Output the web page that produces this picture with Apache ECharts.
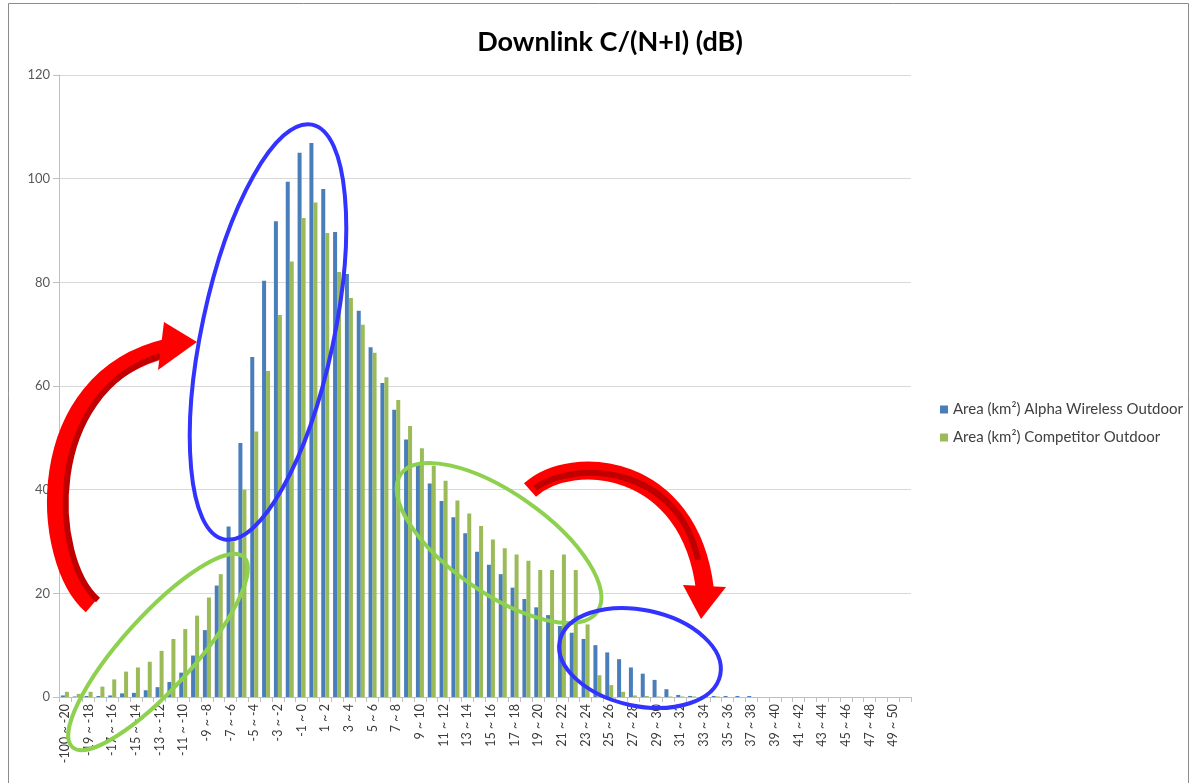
<!DOCTYPE html>
<html>
<head>
<meta charset="utf-8">
<script src="https://cdn.jsdelivr.net/npm/echarts@6/dist/echarts.min.js"></script>
<style>
  html, body { margin: 0; padding: 0; background: #ffffff; }
  #chart { width: 1191px; height: 783px; }
</style>
</head>
<body>
<div id="chart"></div>
<script>
const categories = [
  "-100 ~ -20", "-20 ~ -19", "-19 ~ -18", "-18 ~ -17", "-17 ~ -16", "-16 ~ -15", "-15 ~ -14", "-14 ~ -13",
  "-13 ~ -12", "-12 ~ -11", "-11 ~ -10", "-10 ~ -9", "-9 ~ -8", "-8 ~ -7", "-7 ~ -6", "-6 ~ -5",
  "-5 ~ -4", "-4 ~ -3", "-3 ~ -2", "-2 ~ -1", "-1 ~ 0", "0 ~ 1", "1 ~ 2", "2 ~ 3",
  "3 ~ 4", "4 ~ 5", "5 ~ 6", "6 ~ 7", "7 ~ 8", "8 ~ 9", "9 ~ 10", "10 ~ 11",
  "11 ~ 12", "12 ~ 13", "13 ~ 14", "14 ~ 15", "15 ~ 16", "16 ~ 17", "17 ~ 18", "18 ~ 19",
  "19 ~ 20", "20 ~ 21", "21 ~ 22", "22 ~ 23", "23 ~ 24", "24 ~ 25", "25 ~ 26", "26 ~ 27",
  "27 ~ 28", "28 ~ 29", "29 ~ 30", "30 ~ 31", "31 ~ 32", "32 ~ 33", "33 ~ 34", "34 ~ 35",
  "35 ~ 36", "36 ~ 37", "37 ~ 38", "38 ~ 39", "39 ~ 40", "40 ~ 41", "41 ~ 42", "42 ~ 43",
  "43 ~ 44", "44 ~ 45", "45 ~ 46", "46 ~ 47", "47 ~ 48", "48 ~ 49", "49 ~ 50", "50 ~ 100"
];

const alphaWireless = [
  0.3, 0.1, 0.2, 0.2, 0.3, 0.7, 0.8, 1.3,
  1.9, 2.9, 4.7, 8.0, 12.9, 21.5, 32.9, 49.0,
  65.6, 80.3, 91.8, 99.4, 105.0, 106.9, 98.0, 89.7,
  81.6, 74.5, 67.5, 60.6, 55.4, 49.7, 45.0, 41.2,
  37.8, 34.7, 31.6, 28.0, 25.5, 23.7, 21.1, 18.9,
  17.3, 15.8, 13.7, 12.4, 11.2, 10.0, 8.6, 7.3,
  5.7, 4.5, 3.3, 1.5, 0.4, 0.2, 0.1, 0.2,
  0.2, 0.2, 0.2, 0, 0, 0, 0, 0,
  0, 0, 0, 0, 0, 0, 0, 0
];

const competitor = [
  1.0, 0.6, 1.0, 2.0, 3.4, 4.9, 5.7, 6.8,
  8.9, 11.2, 13.1, 15.7, 19.2, 23.7, 30.0, 40.0,
  51.2, 62.9, 73.7, 84.0, 92.4, 95.4, 89.5, 82.0,
  77.0, 71.8, 66.4, 61.7, 57.3, 52.3, 48.0, 44.6,
  41.7, 37.9, 35.4, 33.0, 30.4, 28.7, 27.5, 26.3,
  24.5, 24.5, 27.5, 24.5, 14.0, 4.2, 2.3, 1.0,
  0.3, 0.2, 0.1, 0.1, 0.1, 0.1, 0.1, 0.1,
  0, 0, 0, 0, 0, 0, 0, 0,
  0, 0, 0, 0, 0, 0, 0, 0
];

const seriesNames = ["Area (km\u00B2) Alpha Wireless Outdoor", "Area (km\u00B2) Competitor Outdoor"];
const titleText = "Downlink C/(N+I) (dB)";

const FONT = "Lato, 'Open Sans', 'DejaVu Sans', sans-serif";
const deg = Math.PI / 180;

const chart = echarts.init(document.getElementById('chart'), null, { renderer: 'canvas' });

const option = {
  backgroundColor: '#ffffff',
  animation: false,
  title: {
    text: titleText,
    left: 605,
    textAlign: 'center',
    top: 24,
    textStyle: { fontFamily: FONT, fontSize: 27, fontWeight: 'bold', color: '#000000' }
  },
  legend: {
    orient: 'vertical',
    left: 935,
    top: 397,
    itemWidth: 8,
    itemHeight: 8,
    itemGap: 13,
    icon: 'rect',
    textStyle: { fontFamily: FONT, fontSize: 15, color: '#404040' },
    data: seriesNames
  },
  grid: { left: 59, right: 280, top: 75, bottom: 86, containLabel: false },
  xAxis: {
    type: 'category',
    data: categories,
    axisLine: { lineStyle: { color: '#bfbfbf', width: 1 } },
    axisTick: { show: true, interval: 0, length: 5, lineStyle: { color: '#bfbfbf' } },
    axisLabel: {
      interval: 1,
      rotate: 90,
      margin: 7,
      fontFamily: FONT,
      fontSize: 12.5,
      color: '#3a3a3a'
    },
    splitLine: { show: false }
  },
  yAxis: {
    type: 'value',
    min: 0,
    max: 120,
    interval: 20,
    axisLine: { show: true, lineStyle: { color: '#bfbfbf' } },
    axisTick: { show: true, length: 6, lineStyle: { color: '#bfbfbf' } },
    axisLabel: { fontFamily: FONT, fontSize: 13, color: '#595959', margin: 9 },
    splitLine: { lineStyle: { color: '#d9d9d9', width: 1 } }
  },
  series: [
    {
      name: seriesNames[0],
      type: 'bar',
      data: alphaWireless,
      barWidth: 4,
      barGap: '0%',
      itemStyle: { color: '#4a7ebb' }
    },
    {
      name: seriesNames[1],
      type: 'bar',
      data: competitor,
      barWidth: 4,
      itemStyle: { color: '#9bbb59' }
    }
  ],
  graphic: [
    // frame
    { type: 'rect', z: 200, silent: true,
      shape: { x: 8.5, y: 3.5, width: 1180, height: 800 },
      style: { fill: 'none', stroke: '#8c8c8c', lineWidth: 1 } },
    // blue ellipse around peak
    { type: 'ellipse', z: 200, silent: true, x: 268, y: 332, rotation: -12 * deg,
      shape: { cx: 0, cy: 0, rx: 66, ry: 212 },
      style: { fill: 'none', stroke: '#3333ff', lineWidth: 4 } },
    // green ellipse lower-left
    { type: 'ellipse', z: 200, silent: true, x: 158, y: 652, rotation: 48 * deg,
      shape: { cx: 0, cy: 0, rx: 128, ry: 36 },
      style: { fill: 'none', stroke: '#8ed14f', lineWidth: 4 } },
    // green ellipse middle
    { type: 'ellipse', z: 200, silent: true, x: 499, y: 543, rotation: -35 * deg,
      shape: { cx: 0, cy: 0, rx: 120, ry: 50 },
      style: { fill: 'none', stroke: '#8ed14f', lineWidth: 4 } },
    // blue ellipse lower-right
    { type: 'ellipse', z: 200, silent: true, x: 640, y: 658, rotation: -12 * deg,
      shape: { cx: 0, cy: 0, rx: 82, ry: 48 },
      style: { fill: 'none', stroke: '#3333ff', lineWidth: 4 } },
    // left red arrow
    { type: 'bezierCurve', z: 201, silent: true,
      shape: { x1: 92, y1: 605, cpx1: 40, cpy1: 560, cpx2: 30, cpy2: 380, x2: 168, y2: 348 },
      style: { fill: 'none', stroke: '#ff0000', lineWidth: 19 } },
    { type: 'bezierCurve', z: 202, silent: true,
      shape: { x1: 98, y1: 600, cpx1: 50, cpy1: 558, cpx2: 44, cpy2: 392, x2: 160, y2: 356 },
      style: { fill: 'none', stroke: '#c00000', lineWidth: 6 } },
    { type: 'polygon', z: 203, silent: true,
      shape: { points: [[197, 342], [164, 322], [158, 370]] },
      style: { fill: '#ff0000' } },
    // right red arrow
    { type: 'bezierCurve', z: 201, silent: true,
      shape: { x1: 530, y1: 490, cpx1: 572, cpy1: 452, cpx2: 690, cpy2: 462, x2: 705, y2: 590 },
      style: { fill: 'none', stroke: '#ff0000', lineWidth: 18 } },
    { type: 'bezierCurve', z: 202, silent: true,
      shape: { x1: 535, y1: 488, cpx1: 574, cpy1: 460, cpx2: 678, cpy2: 464, x2: 698, y2: 560 },
      style: { fill: 'none', stroke: '#c00000', lineWidth: 6 } },
    { type: 'polygon', z: 203, silent: true,
      shape: { points: [[701, 619], [683, 585], [726, 587]] },
      style: { fill: '#ff0000' } }
  ]
};

chart.setOption(option);
</script>
</body>
</html>
